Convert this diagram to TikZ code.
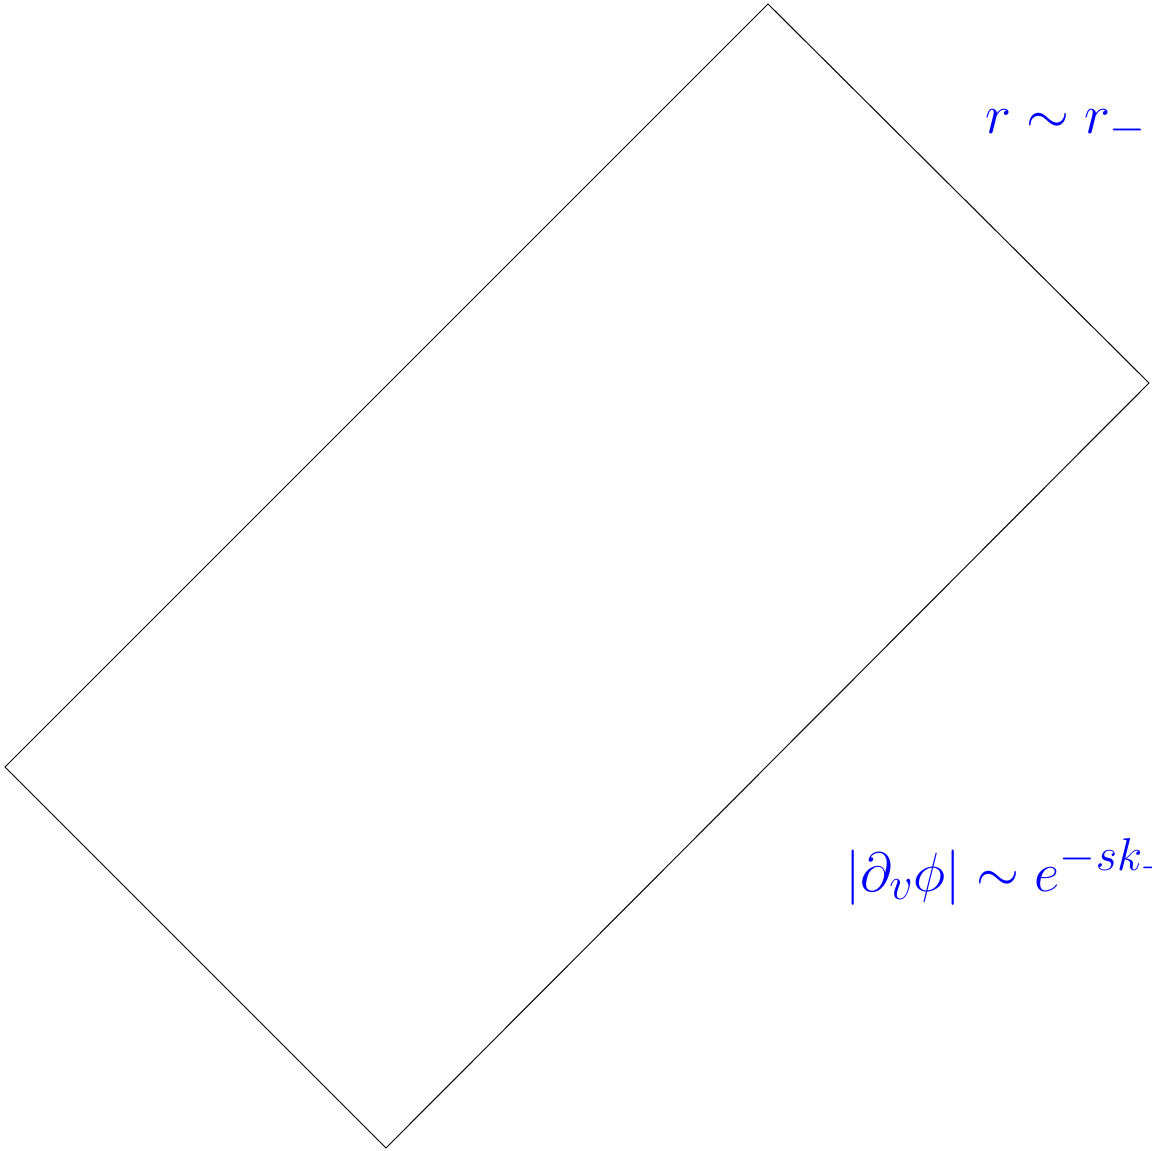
\documentclass[tikz,border=0pt]{standalone}
\begin{document}
\begin{tikzpicture}[x=0.5pt,y=-0.5pt,
  edge/.style={draw=black,line width=0.5pt,line join=miter},
  lbl/.style={text=blue,inner sep=0pt,anchor=base west,font=\Huge,scale=1.11}]
\useasboundingbox (0,0) rectangle (1151,1151);
\clip (0,0) rectangle (1151,1151);
\coordinate (T) at (768,4);
\coordinate (R) at (1149,383);
\coordinate (B) at (386,1148);
\coordinate (L) at (5,767);
\draw[edge] (T) -- (R) -- (B) -- (L) -- cycle;
\node[lbl] (rlab) at (985,133) {$r\sim r_-$};
\node[lbl] (dlab) at (845,891) {$|\partial_v\phi|\sim e^{-sk_- v}$};
\end{tikzpicture}
\end{document}
